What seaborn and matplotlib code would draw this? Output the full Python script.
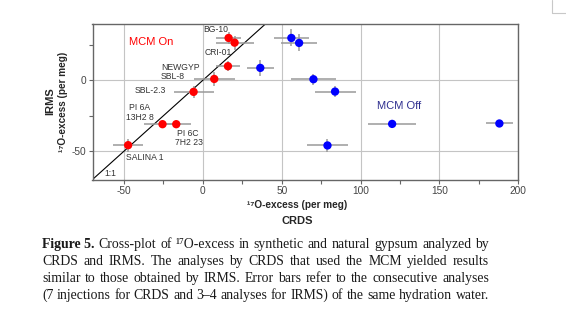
import matplotlib
matplotlib.use("Agg")
import matplotlib.pyplot as plt
import matplotlib.transforms as mtransforms
from matplotlib.lines import Line2D
import seaborn as sns
import pandas as pd

# ---------------- data ----------------
on_names = ["BG-10", "CRI-01", "NEWGYP", "SBL-8", "SBL-2.3", "PI 6A", "PI 6C", "SALINA 1"]
on_x = [16.3, 20.1, 15.9, 7.2, -5.9, -25.6, -16.9, -47.4]
on_y = [29.8, 26.5, 9.9, 0.9, -8.2, -31.0, -31.0, -45.8]
on_xerr = [8.0, 12.0, 7.5, 13.0, 12.7, 12.0, 9.5, 9.5]
on_yerr = [4.5, 5.0, 3.5, 4.7, 4.0, 2.0, 2.0, 4.7]

off_x = [36.4, 56.1, 61.0, 70.1, 83.8, 120.0, 188.0, 79.0]
off_y = [8.7, 29.8, 26.3, 0.7, -8.0, -30.8, -30.5, -46.0]
off_xerr = [8.5, 11.0, 11.6, 14.0, 13.0, 15.0, 8.6, 13.0]
off_yerr = [5.5, 6.0, 6.0, 4.0, 4.0, 2.0, 2.0, 4.7]

x_ticks = [-50, 0, 50, 100, 150, 200]
x_minor = [-25, 25, 75, 125, 175]
y_ticks = [-50, 0]
y_minor = [-25, 25]

# sample annotation labels: (text, x, y)
point_labels = [
    ("BG-10", 0.4, 35.9), ("CRI-01", 1.1, 19.2), ("NEWGYP", -26.6, 9.0),
    ("SBL-8", -27.0, 2.8), ("SBL-2.3", -43.4, -7.5), ("PI 6A", -47.0, -19.5),
    ("13H2 8", -49.0, -26.3), ("PI 6C", -16.5, -37.5), ("7H2 23", -18.0, -44.1),
    ("SALINA 1", -48.7, -54.7), ("1:1", -62.4, -65.7),
]

caption_lines = [
    [("Figure 5.", "bold"), ("Cross-plot", "normal"), ("of", "normal"), ("\u00b9\u2077O-excess", "normal"),
     ("in", "normal"), ("synthetic", "normal"), ("and", "normal"), ("natural", "normal"),
     ("gypsum", "normal"), ("analyzed", "normal"), ("by", "normal")],
    [(w, "normal") for w in "CRDS and IRMS. The analyses by CRDS that used the MCM yielded results".split()],
    [(w, "normal") for w in "similar to those obtained by IRMS. Error bars refer to the consecutive analyses".split()],
    [(w, "normal") for w in "(7 injections for CRDS and 3\u20134 analyses for IRMS) of the same hydration water.".split()],
]

df = pd.DataFrame({
    "crds": on_x + off_x,
    "irms": on_y + off_y,
    "mode": ["MCM On"] * len(on_x) + ["MCM Off"] * len(off_x),
})

# ---------------- figure ----------------
sns.set_theme(style="ticks")
plt.rcParams["font.family"] = ["Liberation Sans", "DejaVu Sans"]
plt.rcParams["axes.unicode_minus"] = False

W, H = 566, 324
fig = plt.figure(figsize=(W / 100, H / 100), dpi=100)
fig.patch.set_facecolor("white")
ax = fig.add_axes([92.5 / W, (H - 179.5) / H, (518.3 - 92.5) / W, 156 / H])

ax.set_xlim(-70, 200)
ax.set_ylim(-70, 40)
ax.set_xticks(x_ticks)
ax.set_xticks(x_minor, minor=True)
ax.set_yticks(y_ticks)
ax.set_yticks(y_minor, minor=True)
ax.tick_params(axis="both", which="both", direction="out", length=3, width=0.8,
               color="#666666", labelsize=7.3, labelcolor="#444444", pad=1.5)
ax.grid(True, which="major", color="#c4c4c4", linewidth=0.8)
ax.set_axisbelow(True)
for s in ax.spines.values():
    s.set_visible(True)
    s.set_color("#666666")
    s.set_linewidth(1.0)

# 1:1 line
ax.axline((0, 0), slope=1, color="black", linewidth=0.8, zorder=2)

# error bars
ax.errorbar(on_x, on_y, xerr=on_xerr, yerr=on_yerr, fmt="none",
            ecolor="#9a9a9a", elinewidth=1.1, capsize=0, zorder=3)
ax.errorbar(off_x, off_y, xerr=off_xerr, yerr=off_yerr, fmt="none",
            ecolor="#9a9a9a", elinewidth=1.1, capsize=0, zorder=3)

sns.scatterplot(data=df, x="crds", y="irms", hue="mode",
                palette={"MCM On": "#ff0000", "MCM Off": "#0000ff"},
                s=36, linewidth=0, legend=False, ax=ax, zorder=4)
ax.set_xlabel("")
ax.set_ylabel("")

for txt, lx, ly in point_labels:
    ax.text(lx, ly, txt, fontsize=6.2, color="#333333", ha="left", va="center", zorder=5)

ax.text(-47, 27, "MCM On", fontsize=8, color="#ff0000", ha="left", va="center")
ax.text(110.5, -18.3, "MCM Off", fontsize=8, color="#2e2e8f", ha="left", va="center")

# axis titles (pixel placement)
ident = mtransforms.IdentityTransform()
fig.text(50, H - 101.5, "IRMS", rotation=90, fontsize=8, fontweight="bold",
         ha="center", va="center", transform=ident)
fig.text(63, H - 101.5, "\u00b9\u2077O-excess (per meg)", rotation=90, fontsize=7.2,
         fontweight="bold", ha="center", va="center", transform=ident)
fig.text(297, H - 205, "\u00b9\u2077O-excess (per meg)", fontsize=7.2, fontweight="bold",
         ha="center", va="center", transform=ident)
fig.text(297, H - 221, "CRDS", fontsize=8, fontweight="bold",
         ha="center", va="center", transform=ident)

# corner mark of page
fig.add_artist(Line2D([551.7, 551.7, 566], [H, H - 13.3, H - 13.3], transform=ident,
                      color="#c8c8c8", linewidth=0.8))

# justified caption
renderer = fig.canvas.get_renderer()
x0, x1 = 42.0, 489.0
cap_family = ["Liberation Serif", "DejaVu Serif"]


def natural_width(line, fs):
    tot = 0.0
    for word, wt in line:
        t = fig.text(0, 0, word, fontsize=fs, fontweight=wt, family=cap_family,
                     transform=ident)
        tot += t.get_window_extent(renderer).width
        t.remove()
    sp = fig.text(0, 0, "a a", fontsize=fs, family=cap_family, transform=ident)
    a1 = fig.text(0, 0, "aa", fontsize=fs, family=cap_family, transform=ident)
    space = sp.get_window_extent(renderer).width - a1.get_window_extent(renderer).width
    sp.remove()
    a1.remove()
    return tot + space * (len(line) - 1)


ref_fs = 10.0
widest = max(natural_width(l, ref_fs) for l in caption_lines)
cap_fs = ref_fs * (x1 - x0) / widest

baselines = [248, 265, 282, 299]
for line, yb in zip(caption_lines, baselines):
    texts = []
    for word, wt in line:
        t = fig.text(0, H - yb, word, fontsize=cap_fs, fontweight=wt,
                     family=cap_family, ha="left", va="baseline",
                     transform=ident, color="#1a1a1a")
        texts.append(t)
    widths = [t.get_window_extent(renderer).width for t in texts]
    gap = (x1 - x0 - sum(widths)) / (len(texts) - 1)
    cx = x0
    for t, w in zip(texts, widths):
        t.set_x(cx)
        cx += w + gap

fig.savefig("out.png", dpi=100)
